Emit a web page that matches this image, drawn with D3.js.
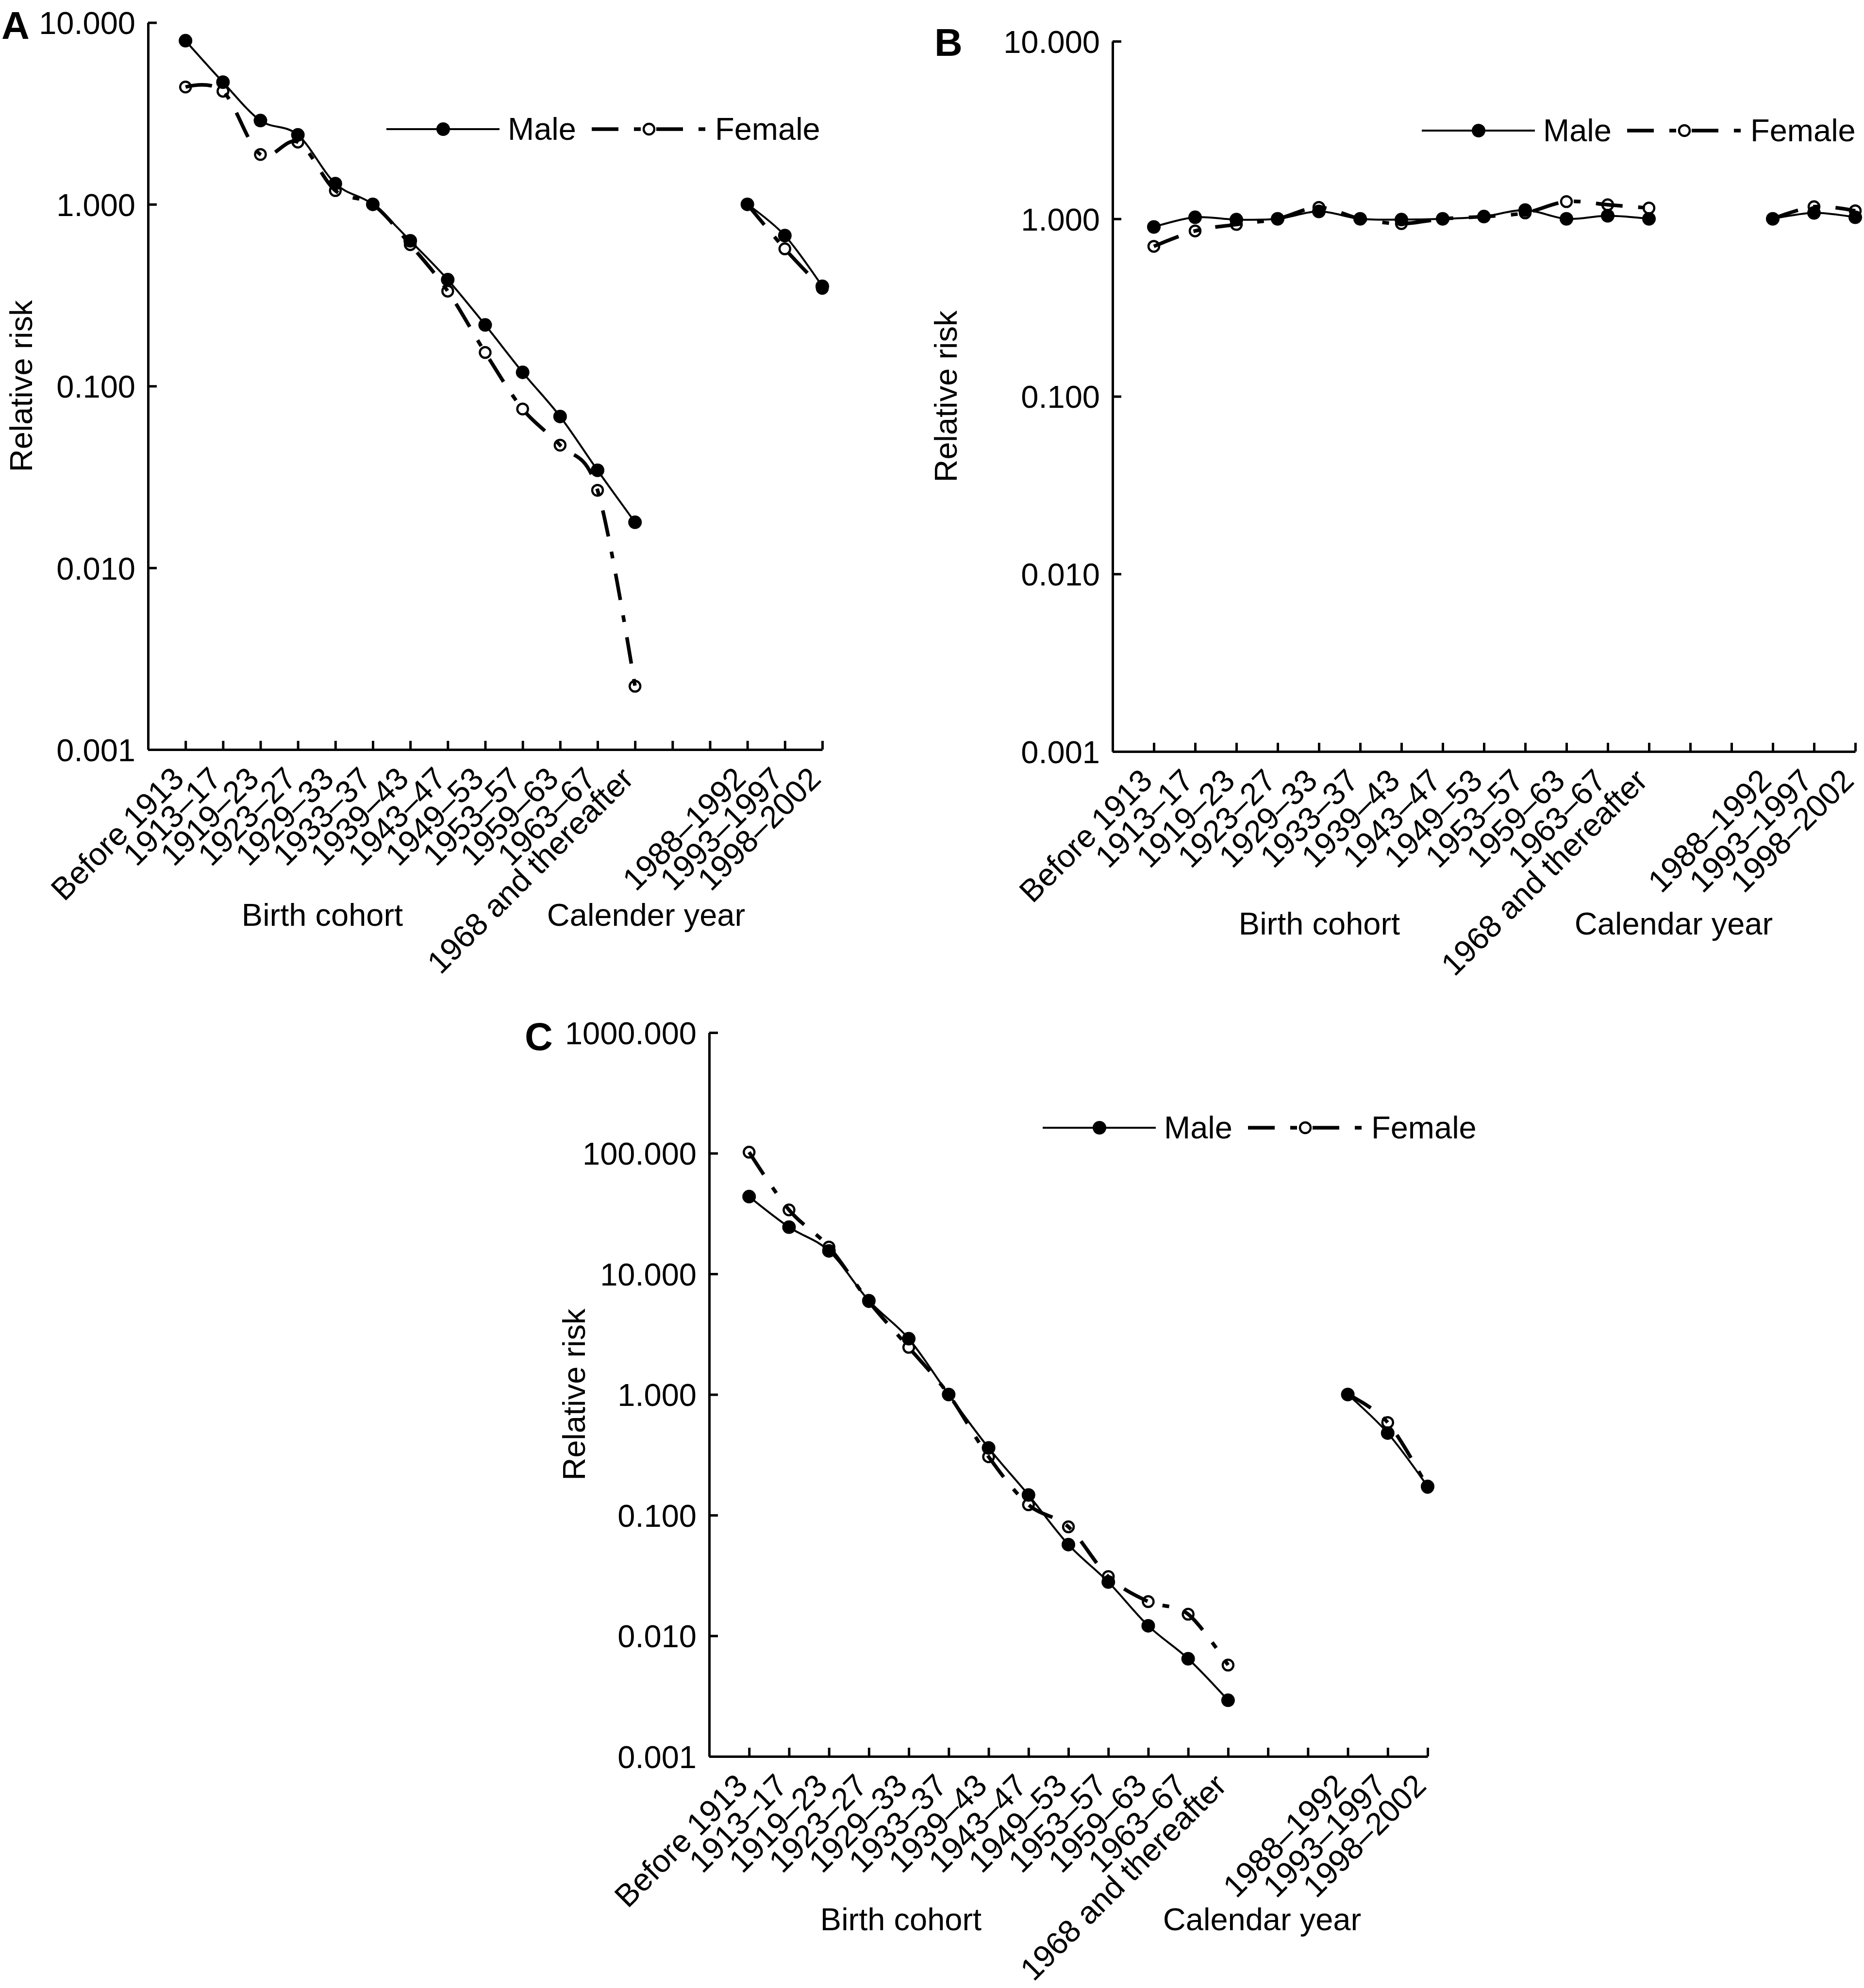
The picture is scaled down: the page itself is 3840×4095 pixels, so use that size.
<!DOCTYPE html>
<html>
<head>
<meta charset="utf-8">
<script src="https://cdn.jsdelivr.net/npm/d3@7"></script>
<style>
  html, body { margin: 0; padding: 0; background: #fff; }
  svg { display: block; }
  text { font-family: "Liberation Sans", Arial, Helvetica, sans-serif; fill: #000; }
</style>
</head>
<body>
<svg id="chart" width="3840" height="4095"></svg>
<script>
// ---------------- DATA ----------------
const cohortLabels = ["Before 1913", "1913\u201317", "1919\u201323", "1923\u201327", "1929\u201333",
  "1933\u201337", "1939\u201343", "1943\u201347", "1949\u201353", "1953\u201357", "1959\u201363",
  "1963\u201367", "1968 and thereafter"];
const yearLabels = ["1988\u20131992", "1993\u20131997", "1998\u20132002"];
const seriesNames = ["Male", "Female"];

// Panel A
const aMaleCohort   = [7.95, 4.7, 2.89, 2.41, 1.30, 1.00, 0.63, 0.385, 0.217, 0.119, 0.068, 0.0344, 0.0178];
const aFemaleCohort = [4.42, 4.19, 1.88, 2.2, 1.19, 1.00, 0.60, 0.333, 0.153, 0.0748, 0.0473, 0.0267, 0.00223];
const aMaleYear     = [1.0, 0.673, 0.354];
const aFemaleYear   = [1.0, 0.569, 0.345];
const aTicks = [0.001, 0.01, 0.1, 1, 10];

// Panel B
const bMaleCohort   = [0.90, 1.02, 0.99, 1.0, 1.10, 1.0, 0.99, 1.0, 1.03, 1.12, 1.0, 1.04, 1.0];
const bFemaleCohort = [0.70, 0.855, 0.93, 1.0, 1.16, 1.0, 0.94, 1.0, 1.03, 1.08, 1.25, 1.20, 1.15];
const bMaleYear     = [1.0, 1.08, 1.02];
const bFemaleYear   = [1.0, 1.17, 1.11];
const bTicks = [0.001, 0.01, 0.1, 1, 10];

// Panel C
const cMaleCohort   = [43.7, 24.4, 15.5, 6.0, 2.90, 1.0, 0.361, 0.147, 0.057, 0.0279, 0.0121, 0.00645, 0.00292];
const cFemaleCohort = [102, 33.9, 16.7, 5.9, 2.46, 1.0, 0.305, 0.122, 0.080, 0.031, 0.0192, 0.0151, 0.00572];
const cMaleYear     = [1.0, 0.479, 0.173];
const cFemaleYear   = [1.0, 0.586, 0.17];
const cTicks = [0.001, 0.01, 0.1, 1, 10, 100, 1000];

// ---------------- DRAWING ----------------
const svg = d3.select("#chart");
svg.append("rect").attr("width", 3840).attr("height", 4095).attr("fill", "#fff");

const FONT = 65;
const nSlots = 18;               // 13 cohorts, 2 empty slots, 3 calendar periods
const yearStart = 15;
const slotLabels = cohortLabels.concat(["", ""], yearLabels);

function drawPanel(p) {
  const g = svg.append("g");
  const x = d3.scaleLinear().domain([-1, nSlots - 1]).range([p.x0, p.x1]);
  const y = d3.scaleLog().domain([p.ticks[0], p.ticks[p.ticks.length - 1]]).range([p.yBottom, p.yTop]);

  // Y axis
  const yAxis = d3.axisLeft(y).tickValues(p.ticks).tickFormat(d3.format(".3f"))
    .tickSize(-18).tickSizeOuter(0).tickPadding(26);
  const ya = g.append("g").attr("transform", `translate(${p.x0},0)`).call(yAxis);
  ya.select(".domain").attr("stroke", "#000").attr("stroke-width", 5);
  ya.selectAll(".tick line").attr("stroke", "#000").attr("stroke-width", 5);
  ya.selectAll(".tick text").attr("font-size", FONT).attr("font-family", "Liberation Sans, Arial, sans-serif")
    .attr("fill", "#000").attr("dy", "0.36em");

  // X axis
  const xAxis = d3.axisBottom(x).tickValues(d3.range(0, nSlots))
    .tickFormat(i => slotLabels[i]).tickSize(-18).tickSizeOuter(0);
  const xa = g.append("g").attr("transform", `translate(0,${p.yBottom})`).call(xAxis);
  xa.select(".domain").attr("stroke", "#000").attr("stroke-width", 5);
  xa.selectAll(".tick line").attr("stroke", "#000").attr("stroke-width", 5);
  xa.selectAll(".tick text").attr("font-size", FONT).attr("font-family", "Liberation Sans, Arial, sans-serif")
    .attr("fill", "#000").attr("text-anchor", "end")
    .attr("x", 0).attr("y", 0).attr("dy", 0)
    .attr("transform", "translate(0,64) rotate(-45)");

  // Axis titles
  g.append("text").attr("transform", `translate(${p.yTitleX},${(p.yTop + p.yBottom) / 2}) rotate(-90)`)
    .attr("text-anchor", "middle").attr("dy", "0.36em").attr("font-size", FONT).text("Relative risk");
  g.append("text").attr("x", p.cohortTitleX).attr("y", p.xTitleY).attr("text-anchor", "middle")
    .attr("font-size", FONT).text("Birth cohort");
  g.append("text").attr("x", p.yearTitleX).attr("y", p.xTitleY).attr("text-anchor", "middle")
    .attr("font-size", FONT).text(p.yearTitle);

  // Panel letter
  g.append("text").attr("x", p.letterX).attr("y", p.letterY).attr("font-size", 80)
    .attr("font-weight", "bold").text(p.letter);

  const line = d3.line().x(d => x(d.i)).y(d => y(d.v)).curve(d3.curveCardinal.tension(0));
  const seg = (vals, start) => vals.map((v, k) => ({ i: start + k, v }));

  const series = [
    { name: seriesNames[0], parts: [seg(p.maleCohort, 0), seg(p.maleYear, yearStart)], female: false },
    { name: seriesNames[1], parts: [seg(p.femaleCohort, 0), seg(p.femaleYear, yearStart)], female: true }
  ];

  series.forEach(s => {
    s.parts.forEach(part => {
      g.append("path").datum(part).attr("d", line).attr("fill", "none").attr("stroke", "#000")
        .attr("stroke-width", s.female ? 7.5 : 4)
        .attr("stroke-dasharray", s.female ? "55,32,14,32" : null);
    });
    const pts = s.parts.flat();
    g.selectAll(null).data(pts).enter().append("circle")
      .attr("cx", d => x(d.i)).attr("cy", d => y(d.v))
      .attr("r", s.female ? 11 : 14)
      .attr("fill", s.female ? "none" : "#000")
      .attr("stroke", "#000").attr("stroke-width", s.female ? 4.5 : 0);
  });

  // Legend
  const L = g.append("g").attr("transform", `translate(${p.legendDx},${p.legendY})`);
  L.append("line").attr("x1", 796).attr("x2", 1029).attr("y1", 0).attr("y2", 0)
    .attr("stroke", "#000").attr("stroke-width", 4);
  L.append("circle").attr("cx", 913).attr("cy", 0).attr("r", 14).attr("fill", "#000");
  L.append("text").attr("x", 1046).attr("y", 22).attr("font-size", FONT).text(seriesNames[0]);
  L.append("line").attr("x1", 1219).attr("x2", 1455).attr("y1", 0).attr("y2", 0)
    .attr("stroke", "#000").attr("stroke-width", 7.5).attr("stroke-dasharray", "55,32,14,32");
  L.append("circle").attr("cx", 1337).attr("cy", 0).attr("r", 11).attr("fill", "#fff")
    .attr("stroke", "#000").attr("stroke-width", 4.5);
  L.append("text").attr("x", 1473).attr("y", 22).attr("font-size", FONT).text(seriesNames[1]);
}

drawPanel({
  letter: "A", letterX: 3, letterY: 80,
  x0: 305, x1: 1694, yTop: 46.5, yBottom: 1544, ticks: aTicks,
  yTitleX: 43, cohortTitleX: 664, yearTitleX: 1331, xTitleY: 1907, yearTitle: "Calender year",
  maleCohort: aMaleCohort, femaleCohort: aFemaleCohort, maleYear: aMaleYear, femaleYear: aFemaleYear,
  legendDx: 0, legendY: 266
});
drawPanel({
  letter: "B", letterX: 1925, letterY: 115,
  x0: 2292, x1: 3822, yTop: 85, yBottom: 1548, ticks: bTicks,
  yTitleX: 1948, cohortTitleX: 2718, yearTitleX: 3448, xTitleY: 1925, yearTitle: "Calendar year",
  maleCohort: bMaleCohort, femaleCohort: bFemaleCohort, maleYear: bMaleYear, femaleYear: bFemaleYear,
  legendDx: 2133, legendY: 269
});
drawPanel({
  letter: "C", letterX: 1081, letterY: 2163,
  x0: 1461, x1: 2941, yTop: 2127, yBottom: 3618, ticks: cTicks,
  yTitleX: 1182, cohortTitleX: 1856, yearTitleX: 2600, xTitleY: 3976, yearTitle: "Calendar year",
  maleCohort: cMaleCohort, femaleCohort: cFemaleCohort, maleYear: cMaleYear, femaleYear: cFemaleYear,
  legendDx: 1352, legendY: 2323
});
</script>
</body>
</html>
